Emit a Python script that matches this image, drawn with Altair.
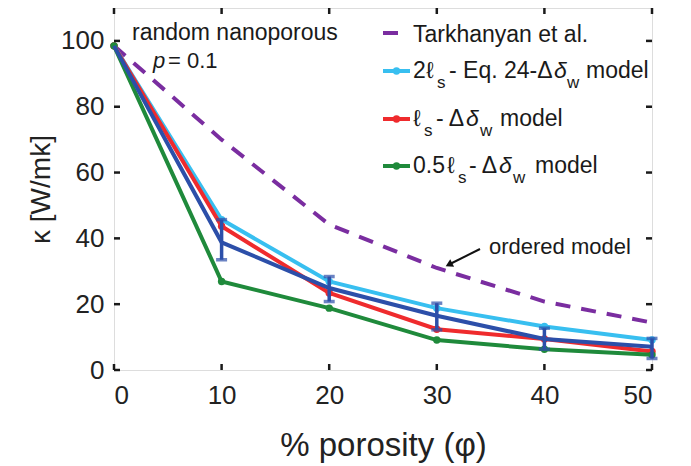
import altair as alt
import pandas as pd

# ---------------- data ----------------
porosity = [0, 10, 20, 30, 40, 50]
tarkhanyan = [98.5, 70.0, 44.2, 31.0, 20.8, 14.4]
two_ls = [98.5, 45.7, 26.9, 18.8, 13.2, 9.1]
ls = [98.5, 43.7, 23.4, 12.4, 9.4, 5.6]
half_ls = [98.5, 26.9, 18.8, 9.1, 6.3, 4.6]
random_mean = [98.5, 38.8, 24.9, 16.5, 9.4, 7.1]
random_lo = [98.5, 33.5, 20.8, 12.2, 6.3, 3.5]
random_hi = [98.5, 45.7, 28.4, 20.3, 12.7, 9.6]
x_ticks = [0, 10, 20, 30, 40, 50]
y_ticks = [0, 20, 40, 60, 80, 100]

# ---------------- styling / layout ----------------
FONT = "Liberation Sans"
C_PURPLE = "#7a2da0"
C_CYAN = "#38bff0"
C_RED = "#ef2b2d"
C_GREEN = "#1f8a3b"
C_BLUE = "#2c4fa9"
W, H = 538, 362
OX, OY = 114, 8  # page position of plot origin

def px(x):
    return x - OX

def py(y):
    return y - OY

xs = alt.Scale(domain=[0, 50], nice=False, zero=False)
ys = alt.Scale(domain=[0, 110], nice=False, zero=True)
x_axis = alt.Axis(values=x_ticks, ticks=False, domain=False, grid=False,
                  labelFontSize=26, labelPadding=12, labelColor="#222",
                  title="% porosity (φ)", titleFontSize=33, titleFontWeight="normal",
                  titleColor="#222", titleY=75, titleBaseline="middle")
y_axis = alt.Axis(values=y_ticks, ticks=False, domain=False, grid=False,
                  labelFontSize=26, labelPadding=10, labelColor="#222",
                  title="κ [W/mk]", titleFontSize=28, titleFontWeight="normal",
                  titleColor="#222", titleX=-73, titleY=H / 2,
                  titleAlign="center", titleBaseline="middle", titleAngle=-90)

X = alt.X("x:Q", scale=xs, axis=x_axis)
Y = alt.Y("y:Q", scale=ys, axis=y_axis)

def series_df(vals):
    return pd.DataFrame({"x": porosity, "y": vals})

tark = alt.Chart(series_df(tarkhanyan)).mark_line(
    color=C_PURPLE, strokeWidth=4, strokeDash=[15, 11]).encode(x=X, y=Y)

layers = [tark]
for vals, col in [(two_ls, C_CYAN), (ls, C_RED), (half_ls, C_GREEN)]:
    d = series_df(vals)
    layers.append(alt.Chart(d).mark_line(color=col, strokeWidth=4).encode(x=X, y=Y))
    layers.append(alt.Chart(d).mark_point(color=col, filled=True, size=55, opacity=1).encode(x=X, y=Y))

blue_df = pd.DataFrame({"x": porosity, "y": random_mean, "lo": random_lo, "hi": random_hi})
blue_err = blue_df[blue_df["x"] > 0]
layers.append(alt.Chart(blue_df).mark_line(color=C_BLUE, strokeWidth=4).encode(x=X, y=Y))
layers.append(alt.Chart(blue_err).mark_rule(color=C_BLUE, strokeWidth=3.5).encode(
    x=X, y=alt.Y("lo:Q", scale=ys, axis=y_axis), y2="hi:Q"))
for col_name in ["lo", "hi"]:
    layers.append(alt.Chart(blue_err).mark_tick(color=C_BLUE, thickness=3.5, size=11, orient="horizontal").encode(
        x=X, y=alt.Y(f"{col_name}:Q", scale=ys, axis=y_axis)))

# inward ticks (MATLAB style) on all four sides
xt = pd.DataFrame({"x": x_ticks})
yt = pd.DataFrame({"y": y_ticks})
TK = 6
layers.append(alt.Chart(xt).mark_rule(color="#1a1a1a", strokeWidth=2.5).encode(
    x=X, y=alt.value(H), y2=alt.value(H - TK)))
layers.append(alt.Chart(xt).mark_rule(color="#1a1a1a", strokeWidth=2.5).encode(
    x=X, y=alt.value(0), y2=alt.value(TK)))
layers.append(alt.Chart(yt).mark_rule(color="#1a1a1a", strokeWidth=2.5).encode(
    y=Y, x=alt.value(0), x2=alt.value(TK)))
layers.append(alt.Chart(yt).mark_rule(color="#1a1a1a", strokeWidth=2.5).encode(
    y=Y, x=alt.value(W - TK), x2=alt.value(W)))

# ---------------- legend / annotations ----------------
legend_rows_y = [33, 71, 119, 166]
samples = pd.DataFrame({
    "x1": [px(383)] * 3, "x2": [px(410)] * 3,
    "y": [py(v) for v in legend_rows_y[1:]],
    "c": [C_CYAN, C_RED, C_GREEN],
})
samples["xm"] = (samples["x1"] + samples["x2"]) / 2
layers.append(alt.Chart(samples).mark_rule(strokeWidth=4).encode(
    x=alt.X("x1:Q", scale=None), x2="x2:Q", y=alt.Y("y:Q", scale=None),
    color=alt.Color("c:N", scale=None)))
layers.append(alt.Chart(samples).mark_point(filled=True, size=55, opacity=1).encode(
    x=alt.X("xm:Q", scale=None), y=alt.Y("y:Q", scale=None),
    color=alt.Color("c:N", scale=None)))
layers.append(alt.Chart(pd.DataFrame({"a": [0]})).mark_rule(color=C_PURPLE, strokeWidth=4).encode(
    x=alt.value(px(383)), x2=alt.value(px(398)), y=alt.value(py(legend_rows_y[0]))))

# text segments: (text, page x, page y, size, style)
segments = [
    ("random nanoporous", 132, 33, 23, "normal"),
    ("p", 153, 61, 22, "italic"),
    ("= 0.1", 168, 61, 22, "normal"),
    ("Tarkhanyan et al.", 413, 35, 23, "normal"),
    ("2", 413, 71, 23, "normal"),
    ("ℓ", 426, 71, 23, "normal"),
    ("s", 437, 83, 17, "normal"),
    ("- Eq. 24-Δ", 449, 71, 23, "normal"),
    ("δ", 554, 71, 23, "italic"),
    ("w", 567, 83, 17, "normal"),
    ("model", 586, 71, 23, "normal"),
    ("ℓ", 413, 119, 23, "normal"),
    ("s", 424, 131, 17, "normal"),
    ("- Δ", 436, 119, 23, "normal"),
    ("δ", 466, 119, 23, "italic"),
    ("w", 480, 131, 17, "normal"),
    ("model", 500, 119, 23, "normal"),
    ("0.5", 413, 166, 23, "normal"),
    ("ℓ", 447, 166, 23, "normal"),
    ("s", 458, 178, 17, "normal"),
    ("- Δ", 469, 166, 23, "normal"),
    ("δ", 499, 166, 23, "italic"),
    ("w", 513, 178, 17, "normal"),
    ("model", 535, 166, 23, "normal"),
    ("ordered model", 489, 247, 22, "normal"),
]
seg_df = pd.DataFrame(segments, columns=["t", "px", "py", "fs", "st"])
seg_df["px"] = seg_df["px"] - OX
seg_df["py"] = seg_df["py"] - OY
for st in ["normal", "italic"]:
    sub = seg_df[seg_df["st"] == st]
    kw = {"fontStyle": "italic"} if st == "italic" else {}
    layers.append(alt.Chart(sub).mark_text(align="left", baseline="middle", color="#1a1a1a",
                                           font=FONT, **kw).encode(
        x=alt.X("px:Q", scale=None), y=alt.Y("py:Q", scale=None),
        text="t:N", size=alt.Size("fs:Q", scale=None)))

# arrow for "ordered model"
layers.append(alt.Chart(pd.DataFrame({"a": [0]})).mark_rule(color="#111", strokeWidth=2).encode(
    x=alt.value(px(480)), y=alt.value(py(249)), x2=alt.value(px(450)), y2=alt.value(py(264))))
layers.append(alt.Chart(pd.DataFrame({"a": [0]})).mark_point(
    shape="triangle", angle=243, size=70, filled=True, color="#111", opacity=1).encode(
    x=alt.value(px(450)), y=alt.value(py(264))))

chart = alt.layer(*layers).properties(
    width=W, height=H,
    autosize=alt.AutoSizeParams(type="none"),
    padding={"left": OX - 8, "top": OY - 8, "right": 30, "bottom": 96},
).configure_view(stroke="#1a1a1a", strokeWidth=3).configure(font=FONT)

chart.save("out.html", embed_options={"renderer": "svg", "actions": False})
